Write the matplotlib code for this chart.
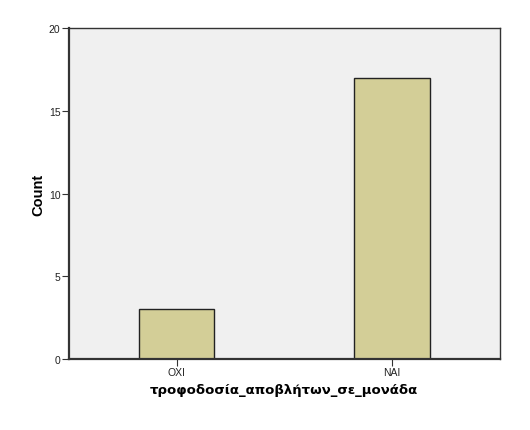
import matplotlib
matplotlib.use("Agg")
import matplotlib.pyplot as plt

categories = ["ΟΧΙ", "ΝΑΙ"]
counts = [3, 17]
yticks = [0, 5, 10, 15, 20]

plt.rcParams['font.family'] = ['Liberation Sans', 'DejaVu Sans']

fig = plt.figure(figsize=(5.3, 4.31), dpi=100)
ax = fig.add_axes([0.1296, 0.1647, 0.8138, 0.768])
ax.set_facecolor('#F0F0F0')
pos = list(range(len(categories)))
ax.bar(pos, counts, width=0.35, color='#D3CE97', edgecolor='#222222', linewidth=1.0)
ax.set_xlim(-0.5, 1.5)
ax.set_ylim(0, 20)
ax.set_yticks(yticks)
ax.set_yticklabels([str(v) for v in yticks])
ax.set_xticks(pos)
ax.set_xticklabels(categories)
ax.tick_params(axis='both', direction='out', length=5, width=0.8, color='#333333',
               labelsize=7.5, labelcolor='#222222', pad=1)
for side in ['top', 'right']:
    ax.spines[side].set_linewidth(1.0)
    ax.spines[side].set_color('#333333')
for side in ['left', 'bottom']:
    ax.spines[side].set_linewidth(1.6)
    ax.spines[side].set_color('#333333')
ax.set_ylabel('Count', fontsize=10.5, fontweight='bold')
ax.set_xlabel('τροφοδοσία_αποβλήτων_σε_μονάδα', fontsize=9.5, fontweight='bold',
              family=['DejaVu Sans'], labelpad=4)
ax.yaxis.set_label_coords(-0.055, 0.5)

fig.savefig('out.png', dpi=100)
